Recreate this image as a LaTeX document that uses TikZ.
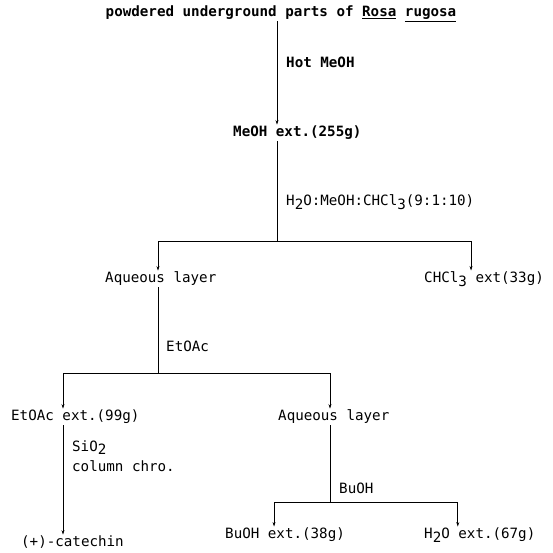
\documentclass[tikz,border=0pt]{standalone}
\usepackage{fontspec}
\setmonofont{DejaVu Sans Mono}
\usepackage{tikz}
\usetikzlibrary{positioning,arrows.meta}

\newcommand{\lowd}[1]{\raisebox{-0.5ex}{#1}}

\begin{document}
\begin{tikzpicture}[x=1pt, y=-1pt, >={Stealth[length=4.5pt,width=3pt]},
  every node/.style={font=\ttfamily\fontsize{14.2}{16}\selectfont, inner sep=2pt, text height=10pt, text depth=2.5pt},
  item/.style={anchor=west},
  lbl/.style={anchor=west, inner sep=1pt},
  link/.style={line width=0.6pt}]
  \useasboundingbox (0,0) rectangle (552,553);

  % products
  \node[font=\ttfamily\bfseries\fontsize{14.2}{16}\selectfont] (raw) at (281,13) {powdered underground parts of \underline{Rosa} \underline{rugosa}};
  \node[item, font=\ttfamily\bfseries\fontsize{14.2}{16}\selectfont] (meoh) at (231,133) {MeOH ext.(255g)};
  \node[item] (aq1) at (103,279) {Aqueous layer};
  \node[item] (chcl) at (422,279) {CHCl\lowd{3} ext(33g)};
  \node[item] (etac) at (9,417) {EtOAc ext.(99g)};
  \node[item] (aq2) at (276,417) {Aqueous layer};
  \node[item] (cat) at (19,543) {(+)-catechin};
  \node[item] (buoh) at (223,535) {BuOH ext.(38g)};
  \node[item] (water) at (422,535) {H\lowd{2}O ext.(67g)};

  % split points
  \coordinate (sp1) at (277,241);
  \coordinate (sp2) at (158,373);
  \coordinate (sp3) at (330,502);
  \coordinate (col) at (63,0);

  % connectors
  \draw[link, ->] (raw.south -| sp1) -- (meoh.north -| sp1);
  \draw[link] (meoh.south -| sp1) -- (sp1);
  \draw[link, ->] (sp1) -| (aq1.north -| sp2);
  \draw[link, ->] (sp1) -| ([xshift=-13pt]chcl.north);
  \draw[link] (aq1.south -| sp2) -- (sp2);
  \draw[link, ->] (sp2) -| (etac.north -| col);
  \draw[link, ->] (sp2) -| (aq2.north -| sp3);
  \draw[link, ->] (etac.south -| col) -- (cat.north -| col);
  \draw[link] (aq2.south -| sp3) -- (sp3);
  \draw[link, ->] (sp3) -| ([xshift=-11pt]buoh.north);
  \draw[link, ->] (sp3) -| ([xshift=-22pt]water.north);

  % conditions
  \node[lbl, font=\ttfamily\bfseries\fontsize{14.2}{16}\selectfont] (hot) at (285,64) {Hot MeOH};
  \node[lbl] (solv) at (285,202) {H\lowd{2}O:MeOH:CHCl\lowd{3}(9:1:10)};
  \node[lbl] (ea) at (165,348) {EtOAc};
  \node[lbl, text height=0pt, text depth=0pt, align=left] (sio) at (71,471) {SiO\lowd{2}\\[4pt]column chro.};
  \node[lbl] (bu) at (338,490) {BuOH};
\end{tikzpicture}
\end{document}
